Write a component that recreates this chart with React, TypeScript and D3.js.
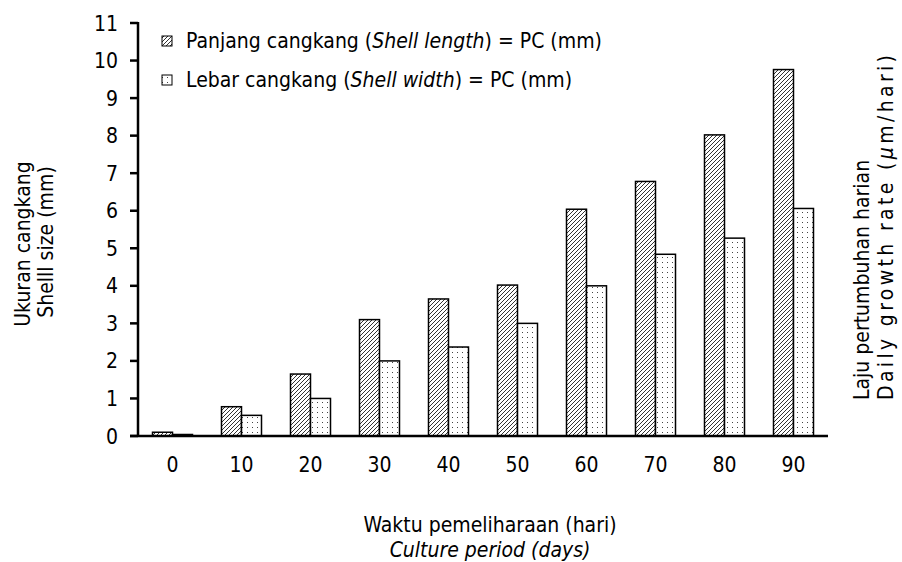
import React from "react";
import * as d3 from "d3";

const categories = ["0", "10", "20", "30", "40", "50", "60", "70", "80", "90"];
const lengthValues = [0.1, 0.78, 1.65, 3.1, 3.65, 4.02, 6.04, 6.78, 8.02, 9.76];
const widthValues = [0.04, 0.55, 1.0, 2.0, 2.37, 3.0, 4.0, 4.84, 5.27, 6.06];
const yTicks = [0, 1, 2, 3, 4, 5, 6, 7, 8, 9, 10, 11];
const seriesNames = ["length", "width"];

const W = 902, H = 562;
const M = { left: 138, right: 828, top: 23, bottom: 436 };
const FONT = "'DejaVu Sans Condensed', 'Liberation Sans Narrow', sans-serif";
const FS = 21;

export default function App() {
  const x = d3.scaleBand<string>().domain(categories).range([M.left, M.right]).paddingInner(0).paddingOuter(0);
  const inner = d3.scaleBand<string>().domain(seriesNames).range([-20, 20]);
  const y = d3.scaleLinear().domain([0, 11]).range([M.bottom, M.top]);
  const fills = { length: "url(#hatch)", width: "url(#dots)" };
  const data = { length: lengthValues, width: widthValues };

  return (
    <svg width={W} height={H} style={{ position: "absolute", left: 0, top: 0, background: "#fff" }}>
      <defs>
        <pattern id="hatch" patternUnits="userSpaceOnUse" width="4" height="4">
          <rect width="4" height="4" fill="#fff" />
          <path d="M-1,1 l2,-2 M0,4 l4,-4 M3,5 l2,-2" stroke="#333" strokeWidth="1" />
        </pattern>
        <pattern id="dots" patternUnits="userSpaceOnUse" width="5" height="5">
          <rect width="5" height="5" fill="#fff" />
          <rect x="2" y="2" width="1" height="1" fill="#444" />
        </pattern>
      </defs>

      {categories.map((c, i) =>
        seriesNames.map((s) => {
          const v = (data as any)[s][i];
          const bx = (x(c) as number) + x.bandwidth() / 2 + (inner(s) as number);
          return (
            <rect key={c + s} x={bx} y={y(v)} width={inner.bandwidth()} height={y(0) - y(v)}
              fill={(fills as any)[s]} stroke="#000" strokeWidth={1.5} />
          );
        })
      )}

      <line x1={M.left} x2={M.left} y1={M.top - 1} y2={M.bottom + 1} stroke="#000" strokeWidth={2.5} />
      {yTicks.map((t) => (
        <g key={t}>
          <line x1={M.left - 8} x2={M.left} y1={y(t)} y2={y(t)} stroke="#000" strokeWidth={2.5} />
          <text x={M.left - 20} y={y(t)} dy="0.36em" textAnchor="end" fontFamily={FONT} fontSize={FS}>{t}</text>
        </g>
      ))}
      <line x1={M.left - 8} x2={M.right} y1={M.bottom} y2={M.bottom} stroke="#000" strokeWidth={2.5} />
      {categories.map((c) => (
        <text key={c} x={(x(c) as number) + x.bandwidth() / 2} y={464} dy="0.36em" textAnchor="middle" fontFamily={FONT} fontSize={FS}>{c}</text>
      ))}

      <text x={490} y={532} textAnchor="middle" fontFamily={FONT} fontSize={FS}>Waktu pemeliharaan (hari)</text>
      <text x={490} y={557} textAnchor="middle" fontFamily={FONT} fontSize={FS} fontStyle="italic">Culture period (days)</text>

      <g transform="translate(30,244) rotate(-90)">
        <text x={0} y={0} textAnchor="middle" fontFamily={FONT} fontSize={FS}>Ukuran cangkang</text>
      </g>
      <g transform="translate(53,242) rotate(-90)">
        <text x={0} y={0} textAnchor="middle" fontFamily={FONT} fontSize={FS}>Shelll size (mm)</text>
      </g>
      <g transform="translate(869,400) rotate(-90)">
        <text x={0} y={0} textAnchor="start" fontFamily={FONT} fontSize={FS}>Laju pertumbuhan harian</text>
      </g>
      <g transform="translate(893,400) rotate(-90)">
        <text x={0} y={0} textAnchor="start" fontFamily={FONT} fontSize={FS} textLength={345} lengthAdjust="spacing">Daily growth rate (<tspan fontStyle="italic">μ</tspan>m/hari)</text>
      </g>

      <rect x={162} y={36} width={10} height={10} fill="url(#hatch)" stroke="#000" strokeWidth={1} />
      <text x={186} y={48} fontFamily={FONT} fontSize={FS}>
        Panjang cangkang (<tspan fontStyle="italic">Shell length</tspan>) = PC (mm)
      </text>
      <rect x={162} y={75} width={10} height={10} fill="url(#dots)" stroke="#000" strokeWidth={1} />
      <text x={186} y={87} fontFamily={FONT} fontSize={FS}>
        Lebar cangkang (<tspan fontStyle="italic">Shell width</tspan>) = PC (mm)
      </text>
    </svg>
  );
}
